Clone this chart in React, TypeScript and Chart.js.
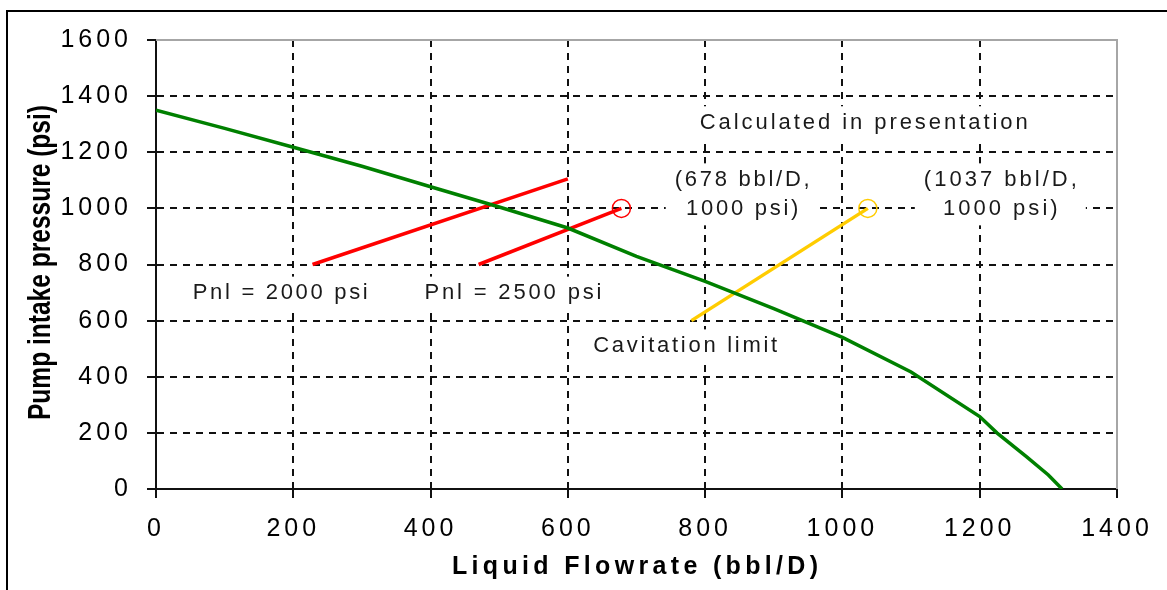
import React, { useEffect, useRef } from "react";
import { Chart, registerables } from "chart.js";

Chart.register(...registerables);

// ---- data ----
const xTickValues = [0, 200, 400, 600, 800, 1000, 1200, 1400];
const yTickValues = [0, 200, 400, 600, 800, 1000, 1200, 1400, 1600];

const pumpFlow = [0, 100, 200, 300, 400, 500, 600, 700, 800, 900, 1000, 1100, 1200, 1225, 1268, 1300, 1320];
const pumpPressure = [1350, 1285, 1218, 1150, 1077, 1005, 930, 829, 740, 643, 540, 417, 258, 200, 115, 50, 0];

const ipr2000Flow = [228, 600];
const ipr2000Pressure = [800, 1105];

const ipr2500Flow = [470, 678];
const ipr2500Pressure = [800, 1000];

const cavitationFlow = [780, 1037];
const cavitationPressure = [600, 1000];

const opPointRedFlow = [678];
const opPointRedPressure = [1000];
const opPointYellowFlow = [1037];
const opPointYellowPressure = [1000];

const xTitle = "Liquid Flowrate (bbl/D)";
const yTitle = "Pump intake pressure (psi)";

const noteTexts = [
  "Calculated in presentation",
  "(678 bbl/D,\n1000 psi)",
  "(1037 bbl/D,\n1000 psi)",
  "Pnl = 2000 psi",
  "Pnl = 2500 psi",
  "Cavitation limit",
];
const noteX = [1031, 854, 1230, 181, 520, 771];
const noteY = [1305, 1050, 1050, 698, 698, 510];
const noteWidth = [328, 135, 153, 175, 177, 184];

const toPts = (xs: number[], ys: number[]) => xs.map((x, i) => ({ x, y: ys[i] }));

function drawFitted(
  ctx: CanvasRenderingContext2D,
  text: string,
  cx: number,
  cy: number,
  width: number,
  font: string,
  color: string
) {
  ctx.save();
  ctx.font = font;
  (ctx as any).letterSpacing = "0px";
  const w = ctx.measureText(text).width;
  const n = Array.from(text).length;
  ctx.fillStyle = color;
  ctx.textBaseline = "middle";
  ctx.textAlign = "left";
  if (w <= width) {
    const sp = n > 1 ? (width - w) / (n - 1) : 0;
    (ctx as any).letterSpacing = sp + "px";
    ctx.fillText(text, cx - width / 2, cy);
  } else {
    ctx.translate(cx - width / 2, cy);
    ctx.scale(width / w, 1);
    ctx.fillText(text, 0, 0);
  }
  ctx.restore();
}

const NOTE_FONT = '22px "Liberation Sans", Arial, sans-serif';
const NOTE_LINE = 29;

const notesPlugin = {
  id: "notes",
  beforeDatasetsDraw(chart: any) {
    const ctx: CanvasRenderingContext2D = chart.ctx;
    const xs = chart.scales.x;
    const ys = chart.scales.y;
    noteTexts.forEach((t, i) => {
      const lines = t.split("\n");
      const cx = xs.getPixelForValue(noteX[i]);
      const cy = ys.getPixelForValue(noteY[i]);
      const h = lines.length * NOTE_LINE;
      const top = cy - h / 2;
      ctx.save();
      (ctx as any).letterSpacing = "0px";
      ctx.fillStyle = "#fff";
      ctx.fillRect(cx - noteWidth[i] / 2 - 9, top - 2, noteWidth[i] + 18, h + 4);
      ctx.font = NOTE_FONT;
      const w0 = ctx.measureText(lines[0]).width;
      const n0 = Array.from(lines[0]).length;
      const sp = Math.max(0, (noteWidth[i] - w0) / (n0 - 1));
      (ctx as any).letterSpacing = sp + "px";
      ctx.fillStyle = "#1a1a1a";
      ctx.textBaseline = "middle";
      ctx.textAlign = "left";
      lines.forEach((ln, k) => {
        const wl = ctx.measureText(ln).width - sp;
        ctx.fillText(ln, cx - wl / 2, top + NOTE_LINE / 2 + k * NOTE_LINE);
      });
      ctx.restore();
    });
  },
};

const letterSpacingPlugin = {
  id: "letterSpacing",
  beforeLayout(chart: any) {
    chart.ctx.letterSpacing = "4px";
  },
  beforeDraw(chart: any) {
    chart.ctx.letterSpacing = "4px";
  },
};

const framePlugin = {
  id: "frameAndTitles",
  afterDraw(chart: any) {
    const ctx: CanvasRenderingContext2D = chart.ctx;
    const a = chart.chartArea;
    ctx.save();
    (ctx as any).letterSpacing = "0px";
    ctx.strokeStyle = "#a6a6a6";
    ctx.lineWidth = 2;
    ctx.beginPath();
    ctx.moveTo(a.left, a.top);
    ctx.lineTo(a.right, a.top);
    ctx.lineTo(a.right, a.bottom);
    ctx.stroke();
    ctx.restore();

    drawFitted(ctx, xTitle, 635, 567, 366, 'bold 25px "Liberation Sans", Arial, sans-serif', "#000");
    ctx.save();
    ctx.translate(41, 262.5);
    ctx.rotate(-Math.PI / 2);
    drawFitted(ctx, yTitle, 0, 0, 315, 'bold 31px "Liberation Sans Narrow", "Liberation Sans", Arial, sans-serif', "#000");
    ctx.restore();
  },
};

export default function App() {
  const canvasRef = useRef<HTMLCanvasElement | null>(null);

  useEffect(() => {
    if (!canvasRef.current) return;
    const lineDs = (label: string, xs: number[], ys: number[], color: string) => ({
      label,
      data: toPts(xs, ys),
      showLine: true,
      borderColor: color,
      backgroundColor: color,
      borderWidth: 3.5,
      pointRadius: 0,
      pointHoverRadius: 0,
      tension: 0,
    });
    const pointDs = (label: string, xs: number[], ys: number[], color: string) => ({
      label,
      data: toPts(xs, ys),
      showLine: false,
      borderColor: color,
      backgroundColor: "rgba(0,0,0,0)",
      borderWidth: 1.5,
      pointRadius: 9,
      pointBorderWidth: 1.5,
    });

    const tickFont = { family: '"Liberation Sans", Arial, sans-serif', size: 25 };

    const chart = new Chart(canvasRef.current, {
      type: "scatter",
      data: {
        datasets: [
          lineDs("Pump", pumpFlow, pumpPressure, "#008000"),
          lineDs("Pnl = 2000 psi", ipr2000Flow, ipr2000Pressure, "#ff0000"),
          lineDs("Pnl = 2500 psi", ipr2500Flow, ipr2500Pressure, "#ff0000"),
          lineDs("Cavitation limit", cavitationFlow, cavitationPressure, "#ffcc00"),
          pointDs("678 bbl/D", opPointRedFlow, opPointRedPressure, "#ff0000"),
          pointDs("1037 bbl/D", opPointYellowFlow, opPointYellowPressure, "#ffcc00"),
        ],
      },
      options: {
        animation: false,
        responsive: true,
        maintainAspectRatio: false,
        devicePixelRatio: 1,
        layout: { padding: { left: 0, top: 40, right: 50, bottom: 0 } },
        plugins: {
          legend: { display: false },
          tooltip: { enabled: false },
        },
        scales: {
          x: {
            type: "linear",
            min: 0,
            max: 1400,
            afterBuildTicks: (s: any) => {
              s.ticks = xTickValues.map((v) => ({ value: v }));
            },
            afterFit: (s: any) => {
              s.height = 101;
              s.paddingLeft = 0;
              s.paddingRight = 0;
            },
            ticks: {
              padding: 16,
              color: "#000",
              font: tickFont,
              maxRotation: 0,
              autoSkip: false,
              callback: (v: any) => String(v),
            },
            grid: {
              color: (c: any) =>
                c.tick && (c.tick.value === 0 || c.tick.value === 1400) ? "rgba(0,0,0,0)" : "#111",
              lineWidth: 2,
              tickColor: "#111",
              tickLength: 9,
              tickWidth: 2,
            },
            border: { display: true, color: "#111", width: 2, dash: [7, 6] },
          },
          y: {
            type: "linear",
            min: 0,
            max: 1600,
            afterBuildTicks: (s: any) => {
              s.ticks = yTickValues.map((v) => ({ value: v }));
            },
            afterFit: (s: any) => {
              s.width = 156;
              s.paddingTop = 0;
              s.paddingBottom = 0;
            },
            ticks: {
              padding: 15,
              color: "#000",
              font: tickFont,
              autoSkip: false,
              callback: (v: any) => String(v),
            },
            grid: {
              color: (c: any) =>
                c.tick && (c.tick.value === 0 || c.tick.value === 1600) ? "rgba(0,0,0,0)" : "#111",
              lineWidth: 2,
              tickColor: "#111",
              tickLength: 9,
              tickWidth: 2,
            },
            border: { display: true, color: "#111", width: 2, dash: [7, 6] },
          },
        },
      },
      plugins: [letterSpacingPlugin, notesPlugin, framePlugin],
    } as any);

    return () => chart.destroy();
  }, []);

  return (
    <div style={{ position: "absolute", left: 0, top: 0, width: 1167, height: 590, background: "#fff" }}>
      <div
        style={{
          position: "absolute",
          left: 6,
          top: 10,
          width: 1200,
          height: 700,
          borderTop: "2.5px solid #000",
          borderLeft: "2.5px solid #000",
        }}
      />
      <div style={{ position: "absolute", left: 0, top: 0, width: 1167, height: 590 }}>
        <canvas ref={canvasRef} />
      </div>
    </div>
  );
}
